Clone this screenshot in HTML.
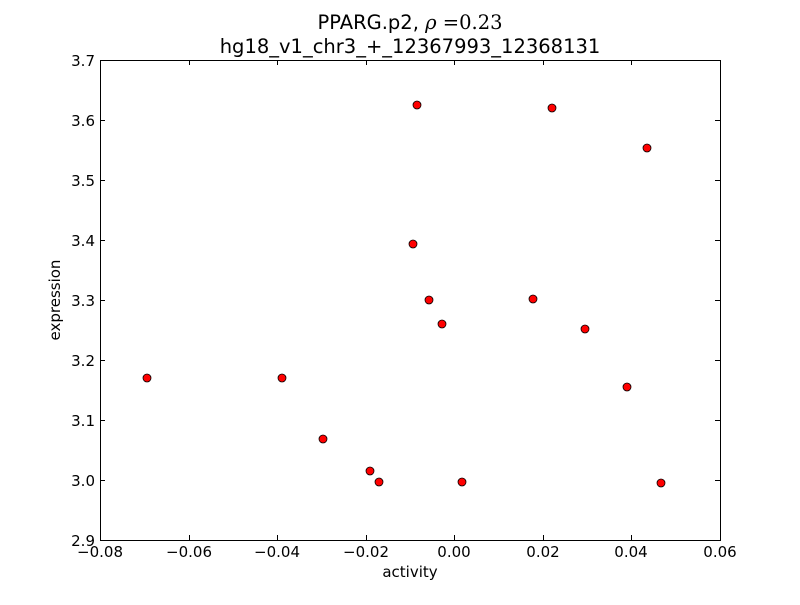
<!DOCTYPE html>
<html><head><meta charset="utf-8"><style>body{margin:0;background:#fff}</style></head><body>
<svg width="800" height="600" xmlns="http://www.w3.org/2000/svg" font-family="DejaVu Sans, Liberation Sans, sans-serif">
<rect width="800" height="600" fill="#fff"/>
<rect x="100.5" y="60.5" width="620" height="480" fill="#fff" stroke="#000" stroke-width="1"/>
<g stroke="#000" stroke-width="1">
<line x1="100.5" y1="540" x2="100.5" y2="535"/><line x1="100.5" y1="60" x2="100.5" y2="65"/>
<line x1="189.5" y1="540" x2="189.5" y2="535"/><line x1="189.5" y1="60" x2="189.5" y2="65"/>
<line x1="277.5" y1="540" x2="277.5" y2="535"/><line x1="277.5" y1="60" x2="277.5" y2="65"/>
<line x1="366.5" y1="540" x2="366.5" y2="535"/><line x1="366.5" y1="60" x2="366.5" y2="65"/>
<line x1="454.5" y1="540" x2="454.5" y2="535"/><line x1="454.5" y1="60" x2="454.5" y2="65"/>
<line x1="543.5" y1="540" x2="543.5" y2="535"/><line x1="543.5" y1="60" x2="543.5" y2="65"/>
<line x1="631.5" y1="540" x2="631.5" y2="535"/><line x1="631.5" y1="60" x2="631.5" y2="65"/>
<line x1="720.5" y1="540" x2="720.5" y2="535"/><line x1="720.5" y1="60" x2="720.5" y2="65"/>
<line x1="100" y1="60.5" x2="105" y2="60.5"/><line x1="720" y1="60.5" x2="715" y2="60.5"/>
<line x1="100" y1="120.5" x2="105" y2="120.5"/><line x1="720" y1="120.5" x2="715" y2="120.5"/>
<line x1="100" y1="180.5" x2="105" y2="180.5"/><line x1="720" y1="180.5" x2="715" y2="180.5"/>
<line x1="100" y1="240.5" x2="105" y2="240.5"/><line x1="720" y1="240.5" x2="715" y2="240.5"/>
<line x1="100" y1="300.5" x2="105" y2="300.5"/><line x1="720" y1="300.5" x2="715" y2="300.5"/>
<line x1="100" y1="360.5" x2="105" y2="360.5"/><line x1="720" y1="360.5" x2="715" y2="360.5"/>
<line x1="100" y1="420.5" x2="105" y2="420.5"/><line x1="720" y1="420.5" x2="715" y2="420.5"/>
<line x1="100" y1="480.5" x2="105" y2="480.5"/><line x1="720" y1="480.5" x2="715" y2="480.5"/>
<line x1="100" y1="540.5" x2="105" y2="540.5"/><line x1="720" y1="540.5" x2="715" y2="540.5"/>
</g>
<g font-size="15" text-anchor="middle" fill="#000">
<text x="100" y="557">−0.08</text><text x="189" y="557">−0.06</text><text x="277" y="557">−0.04</text>
<text x="366" y="557">−0.02</text><text x="454" y="557">0.00</text><text x="543" y="557">0.02</text>
<text x="631" y="557">0.04</text><text x="720" y="557">0.06</text>
</g>
<g font-size="15" text-anchor="end" fill="#000">
<text x="95" y="66">3.7</text><text x="95" y="126">3.6</text><text x="95" y="186">3.5</text>
<text x="95" y="246">3.4</text><text x="95" y="306">3.3</text><text x="95" y="366">3.2</text>
<text x="95" y="426">3.1</text><text x="95" y="486">3.0</text><text x="95" y="546">2.9</text>
</g>
<text x="410" y="577" font-size="15" text-anchor="middle">activity</text>
<text x="60" y="300" font-size="15" text-anchor="middle" transform="rotate(-90 60 300)">expression</text>
<text x="410" y="29" font-size="19.5" text-anchor="middle">PPARG.p2, <tspan font-family="DejaVu Serif, serif" font-style="italic">ρ</tspan><tspan font-family="DejaVu Serif, serif"> =0.23</tspan></text>
<text x="410" y="53" font-size="19.5" text-anchor="middle">hg18_v1_chr3_+_12367993_12368131</text>
<g fill="#f00" stroke="#000" stroke-width="0.8">
<circle cx="147" cy="378" r="4"/><circle cx="282" cy="378" r="4"/><circle cx="323" cy="439" r="4"/>
<circle cx="370" cy="471" r="4"/><circle cx="379" cy="482" r="4"/><circle cx="462" cy="482" r="4"/>
<circle cx="413" cy="244" r="4"/><circle cx="429" cy="300" r="4"/><circle cx="442" cy="324" r="4"/>
<circle cx="417" cy="105" r="4"/><circle cx="552" cy="108" r="4"/><circle cx="533" cy="299" r="4"/>
<circle cx="585" cy="329" r="4"/><circle cx="647" cy="148" r="4"/><circle cx="627" cy="387" r="4"/>
<circle cx="661" cy="483" r="4"/>
</g>
</svg>
</body></html>
